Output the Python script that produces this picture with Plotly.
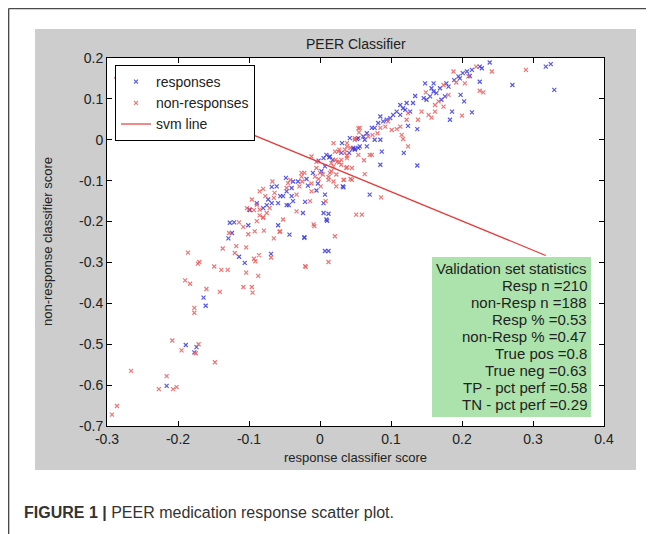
import plotly.graph_objects as go

# ---------------- data ----------------
resp_x = [-0.189, -0.177, -0.174, -0.216, -0.164, -0.161, -0.129, -0.124, -0.121, -0.114, -0.106, -0.101, -0.099,
          -0.069, -0.059, -0.043, -0.022, 0.007, 0.012, 0.010, 0.012,
          -0.002, 0.005, 0.009, 0.013, 0.018, 0.002, 0.007, 0.032, 0.031, 0.030, 0.042, 0.046, 0.049, 0.041, 0.033,
          0.052, 0.054, -0.019, -0.017, -0.003, -0.005, 0.005, 0.007, -0.021, -0.038, -0.040, -0.031, -0.052, -0.047,
          -0.056, -0.059, -0.068, -0.061, -0.068, -0.073, -0.075, -0.080, -0.099, -0.089, -0.048, -0.010, 0.005,
          0.009, -0.024, -0.022, -0.127, -0.040, -0.044, -0.047, -0.038,
          0.239, 0.225, 0.228, 0.318, 0.325, 0.330, 0.271, 0.214, 0.207, 0.201, 0.197, 0.195, 0.189, 0.225, 0.214,
          0.203, 0.198, 0.186, 0.183, 0.181, 0.176, 0.171, 0.169, 0.164, 0.160, 0.157, 0.155, 0.150, 0.146, 0.134,
          0.131, 0.122, 0.117, 0.113, 0.108, 0.103, 0.099, 0.094, 0.089, 0.085, 0.082, 0.077, 0.073, 0.066, 0.063,
          0.061, 0.054, 0.047, 0.049, 0.014, 0.087, 0.118, 0.124, 0.137, 0.137, 0.085, 0.070, 0.160, 0.148, 0.178,
          0.211, 0.085, 0.077, 0.066, 0.056, 0.113, 0.120, 0.127]
resp_y = [-0.502, -0.520, -0.507, -0.602, -0.386, -0.406, -0.241, -0.228, -0.202, -0.286, -0.301, -0.209, -0.172,
          -0.279, -0.209, -0.232, -0.238, -0.272, -0.272, -0.198, -0.181,
          -0.051, -0.045, -0.037, -0.043, -0.049, -0.077, -0.065, -0.114, -0.008, -0.032, 0.004, -0.022, -0.023,
          -0.032, -0.116, 0.002, -0.020, -0.096, -0.112, -0.107, -0.124, -0.155, -0.134, -0.152, -0.102, -0.118,
          -0.102, -0.138, -0.126, -0.138, -0.155, -0.155, -0.114, -0.115, -0.146, -0.160, -0.167, -0.171, -0.155,
          -0.093, -0.081, -0.179, -0.195, -0.179, -0.240, -0.203, -0.138, -0.160, -0.160, -0.150,
          0.189, 0.179, 0.175, 0.179, 0.185, 0.122, 0.134, 0.171, 0.167, 0.163, 0.150, 0.155, 0.146, 0.142, 0.067,
          0.094, 0.110, 0.069, 0.049, 0.130, 0.106, 0.098, 0.126, 0.114, 0.118, 0.126, 0.106, 0.098, 0.102, 0.107,
          0.090, 0.090, 0.077, 0.085, 0.069, 0.061, 0.053, 0.049, 0.045, 0.057, 0.041, 0.029, 0.029, 0.016, 0.000,
          0.008, 0.004, -0.020, -0.024, -0.041, -0.029, -0.032, 0.034, 0.026, -0.063, -0.061, -0.134, 0.138, 0.138,
          0.138, 0.156, 0.000, 0.000, -0.016, -0.016, 0.061, 0.073, 0.069]

nonresp_x = [-0.293, -0.286, -0.266, -0.227, -0.216, -0.207, -0.202, -0.208, -0.195, -0.171, -0.175, -0.148, -0.186,
             -0.190, -0.183, -0.177, -0.177, -0.172, -0.170, -0.160, -0.149, -0.141, -0.139, -0.137, -0.130, -0.128,
             -0.114, -0.120, -0.118, -0.108, -0.104, -0.104, -0.108, -0.101, -0.093, -0.096, -0.095, -0.093, -0.091,
             -0.092, -0.087, -0.086, -0.089, -0.085, -0.080, -0.079, -0.069, -0.065, -0.057, -0.020, -0.008, 0.012,
             0.051,
             -0.005, 0.016, 0.000, 0.004, -0.002, 0.014, 0.012, 0.019, 0.023, 0.033, 0.024, 0.030, 0.037, 0.038,
             0.038, 0.027, 0.043, 0.035, 0.043, 0.054, 0.049, 0.054, 0.045, -0.012, -0.012, 0.001, 0.008, -0.014,
             -0.029, -0.045, -0.026, -0.025, -0.022, -0.026, -0.033, -0.047, -0.064, -0.067, -0.065, -0.071, -0.075,
             -0.080, -0.085, -0.077, -0.080, -0.085, -0.089, -0.096, -0.100, -0.103, -0.042, -0.012, -0.009, -0.033,
             -0.052, -0.056,
             0.242, 0.290, 0.230, 0.225, 0.200, 0.192, 0.181, 0.174, 0.167, 0.162, 0.162, 0.157, 0.153, 0.143, 0.138,
             0.124, 0.122, 0.115, 0.117, 0.124, 0.113, 0.108, 0.101, 0.096, 0.092, 0.085, 0.081, 0.074, 0.068, 0.070,
             0.062, 0.063, 0.086, 0.059, 0.056, 0.055, 0.049, 0.038, 0.035, 0.026, 0.019, 0.021, 0.038, 0.038, 0.030,
             0.022, 0.027, 0.019, 0.016, 0.023, 0.012, 0.034, 0.045, -0.005, -0.007, -0.021, 0.021, 0.073, 0.149,
             0.174, 0.188, 0.204, 0.209, 0.220]
nonresp_y = [-0.672, -0.651, -0.565, -0.610, -0.578, -0.610, -0.605, -0.491, -0.515, -0.500, -0.522, -0.544, -0.276,
             -0.344, -0.352, -0.411, -0.423, -0.303, -0.299, -0.365, -0.310, -0.372, -0.318, -0.266, -0.318, -0.228,
             -0.202, -0.277, -0.260, -0.360, -0.325, -0.263, -0.213, -0.231, -0.172, -0.360, -0.374, -0.291, -0.297,
             -0.224, -0.333, -0.282, -0.199, -0.185, -0.189, -0.222, -0.288, -0.241, -0.225, -0.311, -0.211, -0.299,
             -0.183,
             -0.054, -0.057, -0.081, -0.085, -0.096, -0.081, -0.098, -0.102, -0.114, -0.098, -0.054, -0.061, -0.069,
             -0.045, -0.008, -0.024, -0.020, -0.032, -0.096, 0.028, 0.000, -0.037, -0.069, -0.107, -0.126, -0.114,
             -0.150, -0.150, -0.114, -0.106, -0.081, -0.102, -0.081, -0.090, -0.134, -0.118, -0.130, -0.102, -0.142,
             -0.167, -0.179, -0.191, -0.171, -0.138, -0.120, -0.126, -0.159, -0.146, -0.171, -0.167, -0.098, -0.041,
             -0.207, -0.175, -0.195, -0.224,
             0.167, 0.171, 0.116, 0.120, 0.059, 0.140, 0.110, 0.081, 0.094, 0.085, 0.069, 0.054, 0.061, 0.069, 0.049,
             0.065, 0.049, 0.012, 0.002, -0.016, 0.032, 0.026, 0.024, 0.045, 0.032, 0.029, 0.016, 0.012, 0.008,
             -0.037, -0.050, -0.084, -0.141, -0.183, 0.029, 0.018, 0.004, -0.016, -0.024, -0.029, -0.008, -0.029,
             -0.039, -0.067, -0.049, -0.049, -0.055, -0.065, -0.077, -0.085, -0.091, -0.098, -0.098, -0.069, -0.090,
             -0.309, -0.236, -0.037, 0.116, 0.134, 0.167, 0.138, 0.155, 0.179]

svm_x = [-0.29, 0.318]
svm_y = [0.152, -0.283]

x_ticks = [-0.3, -0.2, -0.1, 0, 0.1, 0.2, 0.3, 0.4]
x_tick_labels = ["-0.3", "-0.2", "-0.1", "0", "0.1", "0.2", "0.3", "0.4"]
y_ticks = [0.2, 0.1, 0, -0.1, -0.2, -0.3, -0.4, -0.5, -0.6, -0.7]
y_tick_labels = ["0.2", "0.1", "0", "-0.1", "-0.2", "-0.3", "-0.4", "-0.5", "-0.6", "-0.7"]

stats_lines = ["Validation set statistics", "Resp n =210", "non-Resp n =188", "Resp % =0.53",
               "non-Resp % =0.47", "True pos =0.8", "True neg =0.63", "TP - pct perf =0.58",
               "TN - pct perf =0.29"]

title_text = "PEER Classifier"
x_label = "response classifier score"
y_label = "non-response classifier score"
caption = "<b>FIGURE 1 |</b> PEER medication response scatter plot."

# ---------------- layout helpers (page pixel -> paper) ----------------
PAGE_W, PAGE_H = 654, 534
OFF = 8                      # browser default body margin
W, H = PAGE_W - OFF, PAGE_H - OFF
L, R, T, B = 107, 604, 58, 426   # plot area in page pixels


def px(x):
    return (x - L) / (R - L)


def py(y):
    return (B - y) / (B - T)


FONT = "Liberation Sans, Arial, sans-serif"
TXT = "#222222"

fig = go.Figure()
fig.add_trace(go.Scatter(x=resp_x, y=resp_y, mode="markers", name="responses",
                         marker=dict(symbol="x-thin", size=4, opacity=0.85,
                                     line=dict(width=1.2, color="rgb(60,60,225)"))))
fig.add_trace(go.Scatter(x=nonresp_x, y=nonresp_y, mode="markers", name="non-responses",
                         marker=dict(symbol="x-thin", size=4, opacity=0.85,
                                     line=dict(width=1.2, color="rgb(235,95,95)"))))
fig.add_trace(go.Scatter(x=svm_x, y=svm_y, mode="lines", name="svm line",
                         line=dict(color="rgb(230,60,60)", width=1.2)))

shapes = [
    # grey figure background
    dict(type="rect", xref="paper", yref="paper", x0=px(35), x1=px(636), y0=py(470), y1=py(29),
         fillcolor="#cdcdcd", line=dict(width=0), layer="below"),
    # white axes area
    dict(type="rect", xref="paper", yref="paper", x0=0, x1=1, y0=0, y1=1,
         fillcolor="white", line=dict(width=0), layer="below"),
    # stats box
    dict(type="rect", xref="paper", yref="paper", x0=px(432), x1=px(591), y0=py(417), y1=py(257),
         fillcolor="rgb(172,226,172)", line=dict(width=0), layer="above"),
    # outer frame lines
    dict(type="line", xref="paper", yref="paper", x0=px(8.6), x1=px(660), y0=py(8.6), y1=py(8.6),
         line=dict(color="#4a4a4a", width=1.5)),
    dict(type="line", xref="paper", yref="paper", x0=px(8.6), x1=px(8.6), y0=py(8.6), y1=py(540),
         line=dict(color="#4a4a4a", width=1.5)),
]

annotations = []
for i, s in enumerate(stats_lines):
    annotations.append(dict(xref="paper", yref="paper", x=px(589), y=py(268 + 17 * i),
                            xanchor="right", yanchor="middle", text=s, showarrow=False,
                            font=dict(family=FONT, size=15, color=TXT)))
annotations += [
    dict(xref="paper", yref="paper", x=0.5, y=py(44), xanchor="center", yanchor="middle",
         text=title_text, showarrow=False, font=dict(family=FONT, size=14, color=TXT)),
    dict(xref="paper", yref="paper", x=0.5, y=py(457), xanchor="center", yanchor="middle",
         text=x_label, showarrow=False, font=dict(family=FONT, size=13, color=TXT)),
    dict(xref="paper", yref="paper", x=px(47), y=0.5, xanchor="center", yanchor="middle",
         text=y_label, textangle=-90, showarrow=False, font=dict(family=FONT, size=13, color=TXT)),
    dict(xref="paper", yref="paper", x=px(22), y=py(512), xanchor="left", yanchor="middle",
         text=caption, showarrow=False, font=dict(family=FONT, size=16, color="#333333")),
]

axis_common = dict(showgrid=False, zeroline=False, showline=True, linecolor="black", linewidth=1,
                   mirror="ticks", ticks="inside", ticklen=5, tickcolor="black",
                   tickfont=dict(family=FONT, size=14, color=TXT))

fig.update_layout(
    width=W, height=H, autosize=False,
    margin=dict(l=L - OFF, r=PAGE_W - R, t=T - OFF, b=PAGE_H - B, pad=0),
    paper_bgcolor="white", plot_bgcolor="white",
    showlegend=True,
    legend=dict(x=px(115), y=py(65), xanchor="left", yanchor="top", bgcolor="white",
                bordercolor="black", borderwidth=1, font=dict(family=FONT, size=14, color=TXT),
                tracegroupgap=0, itemwidth=30),
    xaxis=dict(range=[-0.3, 0.4], tickvals=x_ticks, ticktext=x_tick_labels, **axis_common),
    yaxis=dict(range=[-0.7, 0.2], tickvals=y_ticks, ticktext=y_tick_labels, **axis_common),
    shapes=shapes,
    annotations=annotations,
)

fig.write_html("out.html")
